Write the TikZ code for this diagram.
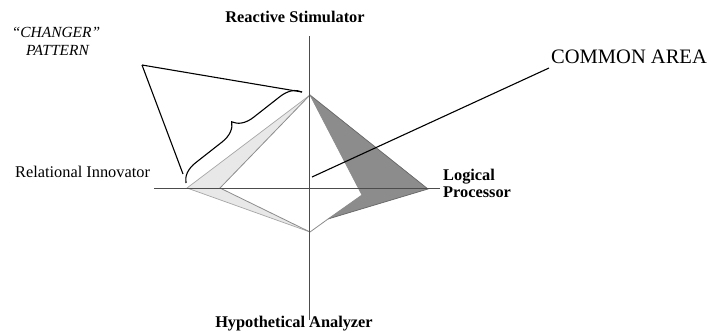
\documentclass[tikz,border=0pt]{standalone}
\usepackage{fontspec}
\setmainfont{Liberation Serif}
\usetikzlibrary{decorations.pathreplacing}
\begin{document}
\begin{tikzpicture}[x=1bp,y=-1bp,
  lbl/.style={inner sep=0pt, font=\fontsize{16.4}{18}\selectfont},
  blbl/.style={inner sep=0pt, font=\fontsize{16.4}{18}\selectfont\bfseries},
  axisline/.style={draw=black!70, line width=0.8bp},
  callout/.style={draw=black, line width=1.1bp},
  lightedge/.style={draw=black!35, line width=0.7bp},
  midedge/.style={draw=black!45, line width=0.8bp},
  darkedge/.style={draw=black!60, line width=0.7bp}]
\useasboundingbox (0,0) rectangle (709,332);
% vertices
\coordinate (T) at (310,95);
\coordinate (L) at (187,188);
\coordinate (B) at (310,232);
\coordinate (R) at (428,189);
\coordinate (Li) at (220,188);
\coordinate (Ri) at (362,195);
\coordinate (Rb) at (328,219);
% axis ends
\coordinate (AT) at (309.5,36);
\coordinate (AB) at (309.5,320);
\coordinate (AL) at (154,188);
\coordinate (AR) at (440,188);
% shapes
\fill[black!9] (T) -- (L) -- (B) -- (Li) -- cycle;
\fill[black!45] (T) -- (R) -- (Rb) -- (Ri) -- cycle;
\draw[lightedge] (T) -- (L) -- (B);
\draw[darkedge] (T) -- (R) -- (Rb);
\draw[midedge] (T) -- (Li) -- (B) -- (Rb) -- (Ri) -- cycle;
% axes
\draw[axisline] (AT) -- (AB);
\draw[axisline] (AL) -- (AR);
% labels
\node[blbl, anchor=base] (stim) at (295,22) {Reactive Stimulator};
\node[blbl, anchor=base] (anal) at (294,327) {Hypothetical Analyzer};
\node[lbl, anchor=base west] (innov) at (15,177) {Relational Innovator};
\node[blbl, anchor=base west] (logic1) at (443,180) {Logical};
\node[blbl, anchor=base west] (logic2) at (443,197.5) {Processor};
\node[inner sep=0pt, font=\fontsize{20.6}{24}\selectfont, anchor=base west] (common) at (551,63) {COMMON AREA};
\node[inner sep=0pt, font=\fontsize{15.5}{18}\selectfont\itshape, anchor=base] (chg1) at (56,37) {“CHANGER”};
\node[inner sep=0pt, font=\fontsize{15.5}{18}\selectfont\itshape, anchor=base] (chg2) at (57.5,55) {PATTERN};
% common area callout
\coordinate (ca) at (312,177);
\coordinate (cend) at (549,68);
\draw[callout] (ca) -- (cend);
% changer callout
\coordinate (apex) at (142,65);
\coordinate (btop) at (302,92);
\coordinate (bbot) at (186,183);
\coordinate (lowend) at (183,174);
\draw[callout] (apex) -- (btop);
\draw[callout] (apex) -- (lowend);
\draw[callout, decorate, decoration={brace, amplitude=20bp, aspect=0.5}] (bbot) -- (btop);
\end{tikzpicture}
\end{document}
